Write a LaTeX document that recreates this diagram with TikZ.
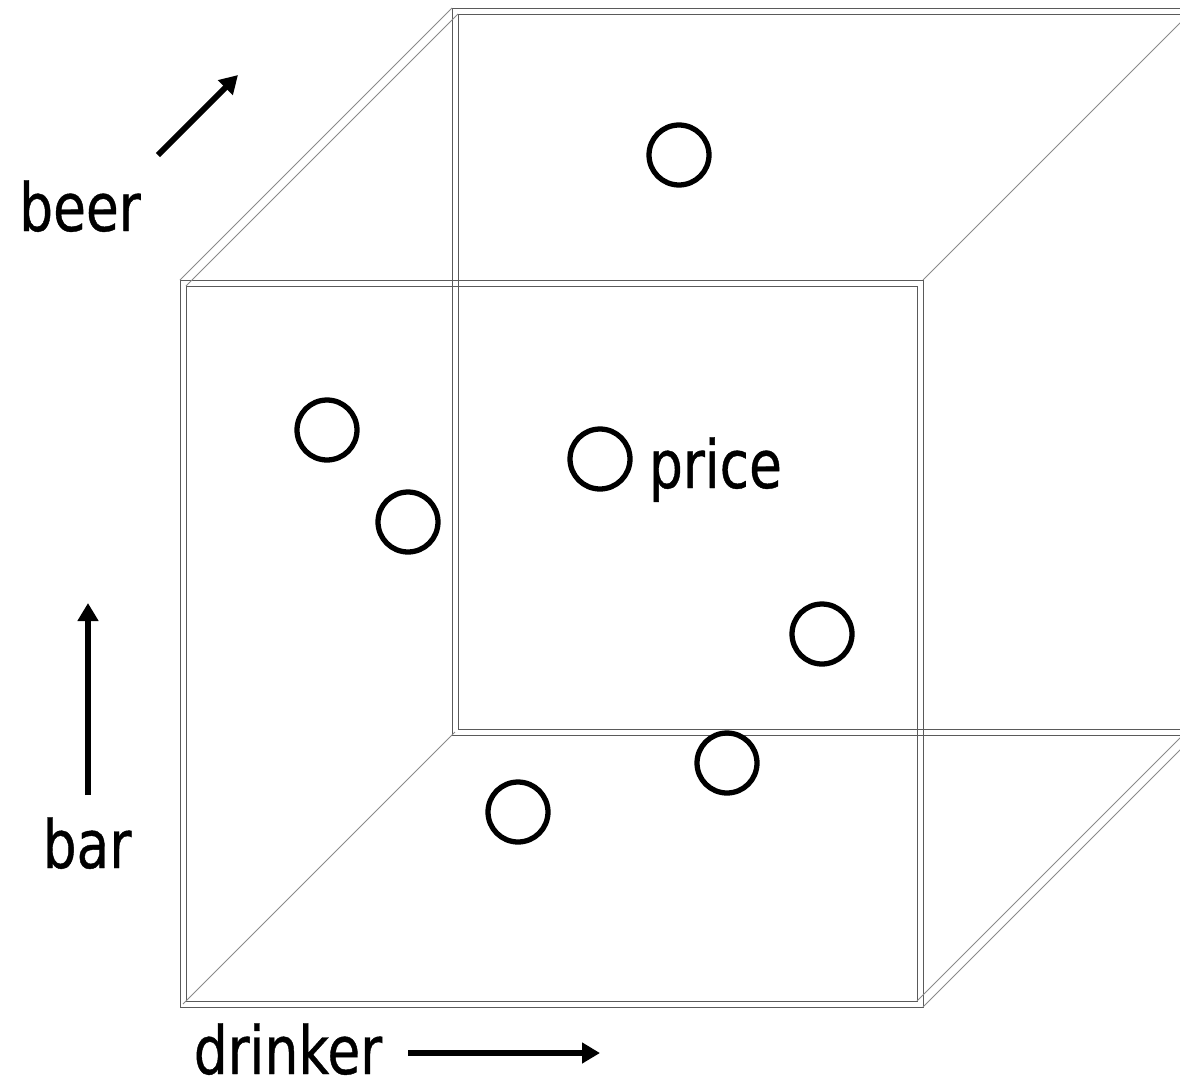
\documentclass[tikz,border=0pt]{standalone}
\usepackage{fontspec}
\setmainfont{DejaVu Sans}[FakeStretch=0.8,FakeBold=0.6]
\usetikzlibrary{arrows.meta,positioning}
\definecolor{edgecol}{HTML}{5A5A5A}
\definecolor{diagcol}{HTML}{8A8A8A}
\tikzset{
	edge/.style={draw=edgecol,line width=0.55pt},
	diag/.style={draw=diagcol,line width=0.55pt},
	dot/.style={circle,draw,line width=3pt,minimum size=1.2cm,inner sep=0pt},
	axis/.style={line width=3.3pt,-{Triangle[width=0.4cm,length=0.36cm]}},
	axislabel/.style={font=\fontsize{38}{44}\selectfont,inner sep=0pt,anchor=base}
}

\begin{document}
\begin{tikzpicture}[x=0.02cm,y=-0.02cm]
\useasboundingbox (0,0) rectangle (1180,1082);
\clip (0,0) rectangle (1180,1082);
% back face
\draw[edge] (452,8) rectangle (1195,735);
\draw[edge] (458,14) rectangle (1189,729);
% front face
\draw[edge] (180,280) rectangle (923,1007);
\draw[edge] (186,286) rectangle (917,1001);
% receding edges
\draw[diag] (180,280) -- (452,8) (186,286) -- (458,14);
\draw[diag] (917,1001) -- (1189,729) (923,1007) -- (1195,735);
\draw[diag] (923,280) -- (1195,8);
\draw[diag] (183,1004) -- (455,732);
% cells
\foreach \cx/\cy [count=\i] in {
	679/155,
	327/430,
	408/522,
	600/459,
	822/634,
	727/763,
	518/812%
	}{
	\node[dot] (c\i) at (\cx,\cy) {};
	}
\node[axislabel,anchor=base west] (price) at ([xshift=0.32cm,yshift=-0.58cm]c4.east) {price};
% axes
\node[axislabel] (beer) at (80,231) {beer};
\node[axislabel] (bar) at (87,868) {bar};
\node[axislabel] (drinker) at (288,1074) {drinker};
\coordinate (beertail) at (158,155);
\coordinate (beertip) at (238,75);
\coordinate (bartail) at (88,795);
\coordinate (bartip) at (88,603);
\coordinate (drinkertail) at (408,1053);
\coordinate (drinkertip) at (600,1053);
\draw[axis] (beertail) -- (beertip);
\draw[axis] (bartail) -- (bartip);
\draw[axis] (drinkertail) -- (drinkertip);
\end{tikzpicture}
\end{document}
